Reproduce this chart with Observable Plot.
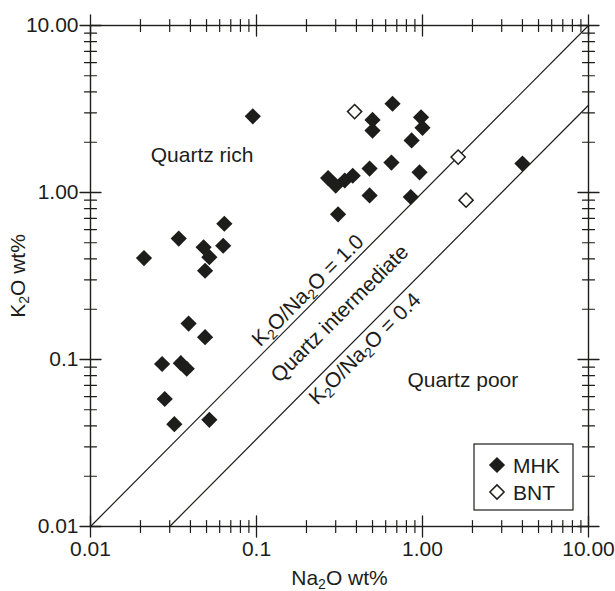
<!DOCTYPE html>
<html><head><meta charset="utf-8">
<script src="https://cdn.jsdelivr.net/npm/d3@7"></script>
<script src="https://cdn.jsdelivr.net/npm/@observablehq/plot@0.6"></script>
<style>
body{margin:0;background:#fff;}
#chart{position:relative;width:615px;height:591px;}
</style>
</head><body><div id="chart"></div>
<script>
// ---- data ----
const series = ["MHK", "BNT"];
const mhkNa = [0.034, 0.064, 0.048, 0.063, 0.052, 0.049, 0.021, 0.039, 0.049, 0.027, 0.035, 0.038, 0.028, 0.032, 0.052,
  0.095, 0.66, 0.50, 0.50, 0.98, 1.0, 0.86, 0.27, 0.30, 0.34, 0.38, 0.48, 0.65, 0.96, 0.48, 0.31, 0.85, 4.0];
const mhkK = [0.53, 0.65, 0.47, 0.48, 0.41, 0.34, 0.405, 0.164, 0.136, 0.094, 0.095, 0.088, 0.058, 0.041, 0.0435,
  2.86, 3.40, 2.72, 2.35, 2.82, 2.44, 2.05, 1.22, 1.10, 1.18, 1.26, 1.39, 1.51, 1.32, 0.96, 0.74, 0.94, 1.49];
const bntNa = [0.39, 1.64, 1.83];
const bntK = [3.05, 1.63, 0.90];

const majorTicks = [0.01, 0.1, 1, 10];
const xTickLabels = ["0.01", "0.1", "1.00", "10.00"];
const yTickLabels = ["0.01", "0.1", "1.00", "10.00"];
const minorTicks = [0.02, 0.03, 0.04, 0.05, 0.06, 0.07, 0.08, 0.09,
  0.2, 0.3, 0.4, 0.5, 0.6, 0.7, 0.8, 0.9,
  2, 3, 4, 5, 6, 7, 8, 9];

const line10Na = [0.01, 10], line10K = [0.01, 10];
const line04Na = [0.03, 10], line04K = [0.01, 3.33];

const regionText = ["Quartz rich", "Quartz poor"];
const regionNa = [0.047, 1.75];
const regionK = [1.67, 0.075];

const slopeText = ["K₂O/Na₂O = 1.0", "Quartz intermediate", "K₂O/Na₂O = 0.4"];
const slopeNa = [0.204, 0.317, 0.449];
const slopeK = [0.259, 0.188, 0.116];

const xTitle = "Na₂O wt%";
const yTitle = "K₂O wt%";

// ---- build ----
const ink = "#1d1d1b";
const font = "'Liberation Sans', Arial, Helvetica, sans-serif";
const mhk = mhkNa.map((d, i) => ({na: d, k: mhkK[i]}));
const bnt = bntNa.map((d, i) => ({na: d, k: bntK[i]}));
const l10 = line10Na.map((d, i) => ({na: d, k: line10K[i]}));
const l04 = line04Na.map((d, i) => ({na: d, k: line04K[i]}));
const regions = regionText.map((t, i) => ({t, na: regionNa[i], k: regionK[i]}));
const slopes = slopeText.map((t, i) => ({t, na: slopeNa[i], k: slopeK[i]}));

const tickShape = {draw(ctx, l) { ctx.moveTo(0, -l / 2); ctx.lineTo(0, l / 2); }};
function ticks(values, len, sw) {
  return [
    Plot.vector(values, {x: d => d, frameAnchor: "bottom", length: len, rotate: 0, anchor: "start", shape: tickShape, stroke: ink, strokeWidth: sw}),
    Plot.vector(values, {x: d => d, frameAnchor: "top", length: len, rotate: 0, anchor: "start", shape: tickShape, stroke: ink, strokeWidth: sw}),
    Plot.vector(values, {y: d => d, frameAnchor: "left", length: len, rotate: 90, anchor: "start", shape: tickShape, stroke: ink, strokeWidth: sw}),
    Plot.vector(values, {y: d => d, frameAnchor: "right", length: len, rotate: 90, anchor: "start", shape: tickShape, stroke: ink, strokeWidth: sw})
  ];
}

const plot = Plot.plot({
  width: 615, height: 591,
  marginLeft: 90, marginRight: 27, marginTop: 25, marginBottom: 65,
  x: {type: "log", domain: [0.01, 10], axis: null},
  y: {type: "log", domain: [0.01, 10], axis: null},
  style: {fontFamily: font, fontSize: "21px", color: ink, background: "white"},
  marks: [
    Plot.line(l10, {x: "na", y: "k", stroke: ink, strokeWidth: 1.2}),
    Plot.line(l04, {x: "na", y: "k", stroke: ink, strokeWidth: 1.2}),
    Plot.frame({stroke: ink, strokeWidth: 1.4}),
    ...ticks(majorTicks, 21, 1.3),
    ...ticks(minorTicks, 12, 1.2),
    Plot.text(majorTicks, {x: d => d, text: (d, i) => xTickLabels[i], frameAnchor: "bottom", dy: 23, textAnchor: "middle", lineAnchor: "middle", fontSize: 21, fill: ink}),
    Plot.text(majorTicks, {y: d => d, text: (d, i) => yTickLabels[i], frameAnchor: "left", dx: -12, textAnchor: "end", lineAnchor: "middle", fontSize: 21, fill: ink}),
    Plot.text([xTitle], {text: d => d, frameAnchor: "bottom", dy: 52, textAnchor: "middle", lineAnchor: "middle", fontSize: 21, fill: ink}),
    Plot.text([yTitle], {text: d => d, frameAnchor: "left", dx: -72, rotate: -90, textAnchor: "middle", lineAnchor: "middle", fontSize: 21, fill: ink}),
    Plot.text(regions, {x: "na", y: "k", text: "t", fontSize: 21, fill: ink}),
    Plot.text(slopes, {x: "na", y: "k", text: "t", rotate: -45, fontSize: 21, fill: ink}),
    Plot.dot(mhk, {x: "na", y: "k", symbol: "diamond2", r: 7.3, fill: ink, stroke: "none"}),
    Plot.dot(bnt, {x: "na", y: "k", symbol: "diamond2", r: 6.4, fill: "white", stroke: ink, strokeWidth: 1.5})
  ]
});

// legend inside frame (bottom-right)
const svg = d3.select(plot);
const xr = plot.scale("x").range, yr = plot.scale("y").range;
const right = xr[1], bottom = yr[0];
const lg = svg.append("g").attr("transform", `translate(${right - 114},${bottom - 82})`);
lg.append("rect").attr("width", 99).attr("height", 66).attr("fill", "white").attr("stroke", ink).attr("stroke-width", 1.2);
const sym = d3.symbol(d3.symbolDiamond2);
series.forEach((s, i) => {
  const cy = 21 + i * 27;
  const filled = i === 0;
  const r = filled ? 7.3 : 6.4;
  lg.append("path").attr("d", sym.size(r * r * Math.PI)()).attr("transform", `translate(23,${cy})`)
    .attr("fill", filled ? ink : "white").attr("stroke", filled ? "none" : ink).attr("stroke-width", 1.5);
  lg.append("text").attr("x", 39).attr("y", cy).attr("dy", "0.36em").attr("font-size", 21)
    .attr("text-anchor", "start").attr("font-family", font).attr("fill", ink).text(s);
});

// subscripts
plot.querySelectorAll("text").forEach(t => {
  const s = t.textContent;
  if (!s.includes("₂") || t.querySelector("tspan")) return;
  const parts = s.split("₂");
  t.textContent = "";
  parts.forEach((p, i) => {
    const a = document.createElementNS("http://www.w3.org/2000/svg", "tspan");
    a.textContent = p;
    if (i > 0) a.setAttribute("dy", "-4px");
    t.appendChild(a);
    if (i < parts.length - 1) {
      const b = document.createElementNS("http://www.w3.org/2000/svg", "tspan");
      b.textContent = "2";
      b.setAttribute("font-size", "14px");
      b.setAttribute("dy", "4px");
      t.appendChild(b);
    }
  });
});

document.getElementById("chart").appendChild(plot);
</script>
</body></html>
